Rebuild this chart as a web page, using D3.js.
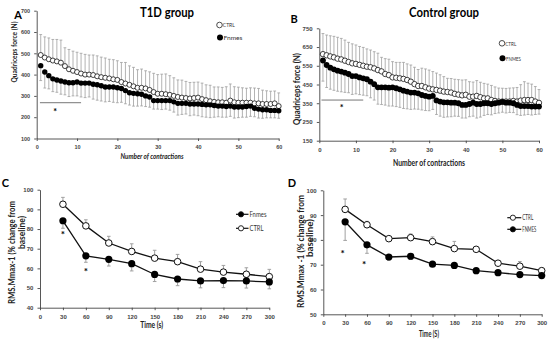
<!DOCTYPE html>
<html><head><meta charset="utf-8">
<script src="https://cdn.jsdelivr.net/npm/d3@7"></script>
<style>
html,body{margin:0;padding:0;background:#fff;}
svg{display:block;font-family:Lato,"Open Sans",sans-serif;}
</style></head><body>
<svg id="c" width="550" height="342"></svg>
<script>
// ---------- DATA ----------
const contractions = d3.range(1, 61);
const ticksA = [100,200,300,400,500,600,700];
const ticksB = [150,250,350,450,550,650,750];
const ticksContr = [0,10,20,30,40,50,60];
const ticksTime = [0,30,60,90,120,150,180,210,240,270,300];
const ticksC = [40,50,60,70,80,90,100];
const ticksD = [50,60,70,80,90,100];

const aCtrl = [492,480,472,466,462,456,440,425,418,412,405,400,400,398,392,388,385,382,378,375,
  365,358,352,345,338,338,335,328,318,310,310,308,305,300,295,292,290,288,290,292,
  285,280,275,272,270,270,268,278,270,268,268,268,268,265,265,262,262,262,265,252];
const aCtrlErr = [96,97,100,99,103,106,86,93,92,93,95,95,92,94,96,94,93,90,92,90,
  92,99,89,89,85,88,83,85,88,90,92,95,90,85,80,82,78,75,74,73,
  75,72,75,70,72,70,75,78,73,73,70,68,70,72,70,65,62,60,58,62];
const aFn = [442,412,395,380,375,370,365,362,362,365,360,360,360,355,352,348,342,342,342,338,
  335,325,315,312,310,308,300,295,278,278,278,278,278,272,265,265,265,262,262,262,
  260,258,258,255,252,252,250,252,248,248,248,250,252,242,238,235,235,232,232,230];
const aFnErr = [70,75,62,60,58,62,60,65,62,65,65,68,65,70,72,72,70,68,72,70,
  65,62,58,60,58,55,50,48,40,40,42,40,45,48,55,52,50,55,52,55,
  58,58,60,55,50,52,50,48,52,50,48,50,48,40,42,40,38,35,35,35];

const bCtrl = [612,606,600,595,588,584,577,570,563,560,555,550,545,542,536,527,520,506,500,488,
  486,483,480,474,465,452,442,442,435,428,424,421,417,412,410,407,400,396,392,395,
  385,385,389,382,376,376,367,362,359,359,359,359,362,359,364,367,367,367,359,352];
const bCtrlErr = [110,108,110,112,114,112,110,105,104,101,98,98,95,92,89,90,75,82,85,84,
  82,85,88,86,89,90,88,95,98,99,95,90,85,80,73,75,78,80,82,80,
  80,78,82,80,80,76,78,75,72,71,70,72,70,75,85,98,90,85,80,71];
const bFn = [578,554,540,531,524,519,513,506,495,495,488,483,478,465,452,435,435,435,433,435,
  430,424,417,412,407,407,403,394,389,385,389,365,359,355,355,353,353,350,341,341,
  346,353,346,346,350,350,346,350,353,357,353,353,350,341,335,335,335,332,332,332];
const bFnErr = [110,120,115,112,110,108,105,100,98,95,92,90,88,86,85,90,92,95,98,100,
  98,96,95,92,90,88,85,80,78,75,72,75,78,80,78,75,72,70,70,70,
  68,72,75,70,65,60,58,55,55,55,55,52,50,52,50,48,45,45,42,40];

const times = [30,60,90,120,150,180,210,240,270,300];
const cFn = [84.2,66.4,64.6,62.4,56.9,54.6,53.6,53.8,53.6,53.1];
const cFnErr = [3.8,3.3,3.4,3.7,3.6,3.4,3.5,3.6,3.6,3.5];
const cCtrl = [92.6,81.6,72.9,68.6,65.2,63.4,59.6,58.1,57.0,55.8];
const cCtrlErr = [3.5,3.1,3.4,3.9,4.0,3.7,3.8,3.4,3.3,3.7];

const dCtrl = [92.3,86.1,80.5,80.9,79.3,76.5,76.2,70.6,69.4,67.6];
const dCtrlErr = [4.2,1.4,0.5,1.5,1.9,2.9,0.4,0.4,1.9,0.5];
const dFn = [87.3,78.0,73.1,73.4,70.2,69.7,67.6,66.8,66.0,65.6];
const dFnErr = [7.5,3.4,1.4,1.3,0.8,0.9,1.2,0.6,0.6,0.6];

// ---------- DRAW ----------
const svg = d3.select("#c");
const ERR = "#a0a0a0";

function txt(g, x, y, s, fs, len, opts={}){
  const t = g.append("text").attr("x",x).attr("y",y).attr("dy","0.35em")
    .attr("font-size",fs).attr("font-weight",opts.bold?"bold":"normal")
    .attr("fill",opts.fill||"#222").attr("text-anchor",opts.anchor||"middle").text(s);
  if (opts.italic) t.attr("font-style","italic");
  if (opts.rot) t.attr("transform",`rotate(-90,${x},${y})`);
  if (len) t.attr("textLength",len).attr("lengthAdjust","spacingAndGlyphs");
  return t;
}

function axes(g, x, y, xt, yt, fs){
  const xa = g.append("g").attr("transform",`translate(0,${y.range()[0]})`)
    .call(d3.axisBottom(x).tickValues(xt).tickSize(2.5).tickSizeOuter(0));
  const ya = g.append("g").attr("transform",`translate(${x.range()[0]},0)`)
    .call(d3.axisLeft(y).tickValues(yt).tickSize(2.5).tickSizeOuter(0));
  [xa,ya].forEach(a=>{
    a.selectAll("path,line").attr("stroke","#444").attr("stroke-width",0.9);
    a.selectAll("text").attr("font-size",fs).attr("font-weight","bold").attr("fill","#444");
  });
  xa.selectAll("text").attr("dy","0.9em");
  ya.selectAll("text").attr("dx","-0.2em");
}

function scatterPanel(o){
  const g = svg.append("g");
  axes(g, o.x, o.y, ticksContr, o.yt, o.fs);
  const cap = 1.4;
  const eb = (vals, errs, up) => {
    const gg = g.append("g").attr("stroke",ERR).attr("stroke-width",0.8);
    contractions.forEach((c,i)=>{
      const y0 = o.y(vals[i]), y1 = o.y(vals[i] + (up?1:-1)*errs[i]);
      gg.append("line").attr("x1",o.x(c)).attr("x2",o.x(c)).attr("y1",y0).attr("y2",y1);
      gg.append("line").attr("x1",o.x(c)-cap).attr("x2",o.x(c)+cap).attr("y1",y1).attr("y2",y1);
    });
  };
  eb(o.ctrl, o.ctrlErr, true);
  eb(o.fn, o.fnErr, false);
  g.append("g").selectAll("circle").data(o.ctrl).join("circle")
    .attr("cx",(d,i)=>o.x(contractions[i])).attr("cy",d=>o.y(d)).attr("r",o.r)
    .attr("fill","#fff").attr("stroke","#111").attr("stroke-width",0.8);
  g.append("g").selectAll("circle").data(o.fn).join("circle")
    .attr("cx",(d,i)=>o.x(contractions[i])).attr("cy",d=>o.y(d)).attr("r",o.r+0.2)
    .attr("fill","#000");
  g.append("line").attr("x1",o.x(o.sig[0])).attr("x2",o.x(o.sig[1]))
    .attr("y1",o.y(o.sig[2])).attr("y2",o.y(o.sig[2])).attr("stroke","#777").attr("stroke-width",1);
  txt(g, o.x(o.star[0]), o.y(o.star[1]), "*", 9, null, {bold:true, fill:"#000"});
  g.append("circle").attr("cx",o.leg[0]).attr("cy",o.leg[1]).attr("r",2.8).attr("fill","#fff").attr("stroke","#222").attr("stroke-width",0.8);
  txt(g, o.leg[0]+3.3, o.leg[1], "CTRL", 6.5, o.legLen[0], {anchor:"start", fill:"#333"});
  g.append("circle").attr("cx",o.leg[0]+0.5).attr("cy",o.leg[1]+o.leg[2]).attr("r",3).attr("fill","#000");
  txt(g, o.leg[0]+4, o.leg[1]+o.leg[2], o.fnName, 6.5, o.legLen[1], {anchor:"start", fill:"#333"});
  txt(g, o.yl[0], o.yl[1], "Quadriceps force  (N)", o.ylfs, o.yl[2], {bold:true, rot:true});
  txt(g, o.xl[0], o.xl[1], "Number of contractions", o.xlfs, o.xl[2], {bold:true, italic:o.xlItalic});
  txt(g, o.title[0], o.title[1], o.titleText, 14, o.title[2], {bold:true, fill:"#000"});
  txt(g, o.letter[0], o.letter[1], o.letterText, 11, null, {bold:true, fill:"#000"});
}

scatterPanel({
  x: d3.scaleLinear().domain([0,60]).range([36.7,278.7]),
  y: d3.scaleLinear().domain([100,700]).range([138.5,10.7]),
  yt: ticksA, fs: 5.5, r: 2.5,
  ctrl: aCtrl, ctrlErr: aCtrlErr, fn: aFn, fnErr: aFnErr,
  sig: [0.8, 11, 268], star: [4.6, 224],
  leg: [219.5, 25, 12.5], legLen: [12, 19], fnName: "Fnmes",
  yl: [14, 52, 61], ylfs: 7.5, xl: [152, 156.5, 63], xlfs: 7.2, xlItalic: true,
  title: [167, 12, 54], titleText: "T1D group", letter: [18, 15], letterText: "A"
});
scatterPanel({
  x: d3.scaleLinear().domain([0,60]).range([319.3,539]),
  y: d3.scaleLinear().domain([150,750]).range([140.7,28.3]),
  yt: ticksB, fs: 6, r: 2.7,
  ctrl: bCtrl, ctrlErr: bCtrlErr, fn: bFn, fnErr: bFnErr,
  sig: [0.6, 12, 367], star: [6.1, 324],
  leg: [502, 43.3, 15], legLen: [11, 15], fnName: "FNMES",
  yl: [296.7, 89, 72], ylfs: 8.5, xl: [429, 163.3, 72], xlfs: 8.5, xlItalic: false,
  title: [444, 12, 70], titleText: "Control group", letter: [294, 19], letterText: "B"
});

function linePanel(o){
  const g = svg.append("g");
  axes(g, o.x, o.y, ticksTime, o.yt, o.fs);
  const eb = (vals, errs, up) => {
    const gg = g.append("g").attr("stroke",ERR).attr("stroke-width",1);
    times.forEach((t,i)=>{
      const y0 = o.y(vals[i]), y1 = o.y(vals[i] + (up?1:-1)*errs[i]);
      gg.append("line").attr("x1",o.x(t)).attr("x2",o.x(t)).attr("y1",y0).attr("y2",y1);
      gg.append("line").attr("x1",o.x(t)-1.8).attr("x2",o.x(t)+1.8).attr("y1",y1).attr("y2",y1);
    });
  };
  eb(o.ctrl, o.ctrlErr, true);
  eb(o.fn, o.fnErr, false);
  const line = vals => d3.line().x((d,i)=>o.x(times[i])).y(d=>o.y(d))(vals);
  g.append("path").attr("d",line(o.ctrl)).attr("fill","none").attr("stroke","#111").attr("stroke-width",1.3);
  g.append("path").attr("d",line(o.fn)).attr("fill","none").attr("stroke","#111").attr("stroke-width",1.3);
  g.append("g").selectAll("circle").data(o.ctrl).join("circle")
    .attr("cx",(d,i)=>o.x(times[i])).attr("cy",d=>o.y(d)).attr("r",3.3)
    .attr("fill","#fff").attr("stroke","#111").attr("stroke-width",1);
  g.append("g").selectAll("circle").data(o.fn).join("circle")
    .attr("cx",(d,i)=>o.x(times[i])).attr("cy",d=>o.y(d)).attr("r",3.6).attr("fill","#000");
  o.stars.forEach(s=> txt(g, o.x(s[0]), o.y(s[1]), "*", 10, null, {bold:true, fill:"#000"}));
  o.legend.forEach((L,k)=>{
    const ly = o.leg[1] + k*o.leg[3];
    g.append("line").attr("x1",o.leg[0]).attr("x2",o.leg[0]+o.leg[2]).attr("y1",ly).attr("y2",ly).attr("stroke","#111").attr("stroke-width",1.2);
    g.append("circle").attr("cx",o.leg[0]+o.leg[2]*0.4).attr("cy",ly).attr("r",2.6)
      .attr("fill",L.filled?"#000":"#fff").attr("stroke","#111").attr("stroke-width",0.9);
    txt(g, o.leg[0]+o.leg[2]+1, ly, L.name, 6.8, L.len, {anchor:"start", fill:"#333"});
  });
  o.yl.forEach(L=> txt(g, L[0], L[1], L[2], o.ylfs, L[3], {bold:true, rot:true}));
  txt(g, o.xl[0], o.xl[1], o.xlText, 8.5, o.xl[2], {bold:true});
  txt(g, o.letter[0], o.letter[1], o.letterText, 11, null, {bold:true, fill:"#000"});
}

linePanel({
  x: d3.scaleLinear().domain([0,300]).range([40,269.3]),
  y: d3.scaleLinear().domain([40,100]).range([307.7,189.7]),
  yt: ticksC, fs: 6,
  ctrl: cCtrl, ctrlErr: cCtrlErr, fn: cFn, fnErr: cFnErr,
  stars: [[30,77.3],[60,58.6]],
  leg: [236, 214.3, 12.5, 14], legend: [{name:"Fnmes",filled:true,len:17},{name:"CTRL",filled:false,len:14}],
  yl: [[12,252.5,"RMS.Mmax-1 (% change from",103],[22,232.5,"baseline)",33]], ylfs: 8.5,
  xl: [151.7,325.3,23], xlText: "Time (s)", letter: [5.5,183], letterText: "C"
});
linePanel({
  x: d3.scaleLinear().domain([0,300]).range([323.3,541.7]),
  y: d3.scaleLinear().domain([50,100]).range([314.3,190.3]),
  yt: ticksD, fs: 6,
  ctrl: dCtrl, ctrlErr: dCtrlErr, fn: dFn, fnErr: dFnErr,
  stars: [[26.7,74.6],[56,70.2]],
  leg: [507.3, 217.7, 14, 11.6], legend: [{name:"CTRL",filled:false,len:11},{name:"FNMES",filled:true,len:14}],
  yl: [[301.5,251.5,"RMS.Mmax -1 (% change from",113],[310.5,238,"baseline)",38]], ylfs: 8.5,
  xl: [429,333.7,20], xlText: "Time (S)", letter: [292,183], letterText: "D"
});
</script>
</body></html>
